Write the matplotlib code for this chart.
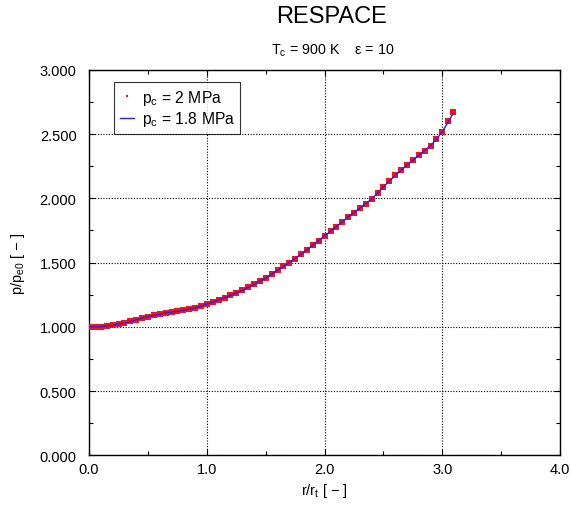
import matplotlib
matplotlib.use("Agg")
import matplotlib.pyplot as plt
from matplotlib.ticker import MultipleLocator, FormatStrFormatter

plt.rcParams['font.family'] = ['Liberation Sans', 'DejaVu Sans']
plt.rcParams['mathtext.default'] = 'regular'

# p_c = 2 MPa (red markers)
r_2mpa = [0.00, 0.05, 0.10, 0.15, 0.20, 0.25, 0.30, 0.35, 0.40, 0.45,
          0.50, 0.55, 0.60, 0.65, 0.70, 0.75, 0.80, 0.85, 0.90, 0.95,
          1.00, 1.05, 1.10, 1.15, 1.20, 1.25, 1.30, 1.35, 1.40, 1.45,
          1.50, 1.55, 1.60, 1.65, 1.70, 1.75, 1.80, 1.85, 1.90, 1.95,
          2.00, 2.05, 2.10, 2.15, 2.20, 2.25, 2.30, 2.35, 2.40, 2.45,
          2.50, 2.55, 2.60, 2.65, 2.70, 2.75, 2.80, 2.85, 2.90, 2.95,
          3.00, 3.05, 3.09]
p_2mpa = [1.000, 1.000, 1.002, 1.006, 1.012, 1.020, 1.030, 1.042, 1.055, 1.068,
          1.080, 1.090, 1.100, 1.108, 1.115, 1.121, 1.128, 1.137, 1.148, 1.161,
          1.177, 1.193, 1.210, 1.227, 1.245, 1.265, 1.285, 1.307, 1.330, 1.355,
          1.380, 1.410, 1.440, 1.470, 1.500, 1.532, 1.565, 1.600, 1.635, 1.671,
          1.708, 1.744, 1.780, 1.818, 1.855, 1.890, 1.925, 1.960, 1.995, 2.040,
          2.090, 2.135, 2.178, 2.220, 2.260, 2.298, 2.335, 2.372, 2.410, 2.460,
          2.520, 2.600, 2.672]

# p_c = 1.8 MPa (blue line)
r_18mpa = [0.00, 0.10, 0.20, 0.30, 0.40, 0.50, 0.60, 0.70, 0.80, 0.90,
           1.00, 1.10, 1.20, 1.30, 1.40, 1.50, 1.60, 1.70, 1.80, 1.90,
           2.00, 2.10, 2.20, 2.30, 2.40, 2.50, 2.60, 2.70, 2.80, 2.90,
           2.95, 3.00, 3.05, 3.09]
p_18mpa = [1.000, 1.002, 1.012, 1.030, 1.055, 1.080, 1.100, 1.115, 1.128, 1.148,
           1.177, 1.210, 1.245, 1.285, 1.330, 1.380, 1.440, 1.500, 1.565, 1.635,
           1.708, 1.780, 1.855, 1.925, 1.995, 2.090, 2.178, 2.260, 2.335, 2.410,
           2.460, 2.520, 2.595, 2.660]

fig = plt.figure(figsize=(5.71, 5.06), dpi=100)
ax = fig.add_axes([0.156, 0.098, 0.825, 0.762])

ax.plot(r_2mpa, p_2mpa, linestyle='none', marker='s', markersize=4.2,
        color='#ff1010', markeredgewidth=0, label=r'p$_c$ = 2 MPa', zorder=3)
ax.plot(r_18mpa, p_18mpa, color='#2020ff', linewidth=1.0,
        label=r'p$_c$ = 1.8 MPa', zorder=4)

ax.set_xlim(0, 4)
ax.set_ylim(0, 3)
ax.xaxis.set_major_locator(MultipleLocator(1.0))
ax.xaxis.set_minor_locator(MultipleLocator(0.5))
ax.yaxis.set_major_locator(MultipleLocator(0.5))
ax.yaxis.set_minor_locator(MultipleLocator(0.25))
ax.xaxis.set_major_formatter(FormatStrFormatter('%.1f'))
ax.yaxis.set_major_formatter(FormatStrFormatter('%.3f'))
ax.tick_params(which='both', direction='in', top=True, right=True,
               labelsize=10.5, color='black')
ax.tick_params(which='major', length=4, width=0.8)
ax.tick_params(which='minor', length=3, width=0.8)
ax.tick_params(axis='x', pad=5)
ax.tick_params(axis='y', pad=9)
ax.grid(True, which='major', linestyle=(0, (1, 1.5)), color='black', linewidth=0.8)
for s in ax.spines.values():
    s.set_linewidth(1.0)

ax.set_xlabel(r'r/r$_t$ [ − ]', fontsize=10.5, labelpad=3)
ax.set_ylabel(r'p/p$_{e0}$ [ − ]', fontsize=10.5, labelpad=9)

fig.text(0.581, 0.967, 'RESPACE', ha='center', va='center', fontsize=17)
fig.text(0.583, 0.899, r'T$_c$ = 900 K    ε = 10', ha='center', va='center',
         fontsize=10.3)

leg = ax.legend(loc='upper left', bbox_to_anchor=(0.053, 0.968), fontsize=11.3,
                frameon=True, fancybox=False, edgecolor='black',
                borderaxespad=0, handlelength=0.9, handletextpad=0.5,
                borderpad=0.35, labelspacing=0.15, markerscale=0.5)
leg.get_frame().set_linewidth(0.8)

fig.savefig('out.png', dpi=100, facecolor='white')
